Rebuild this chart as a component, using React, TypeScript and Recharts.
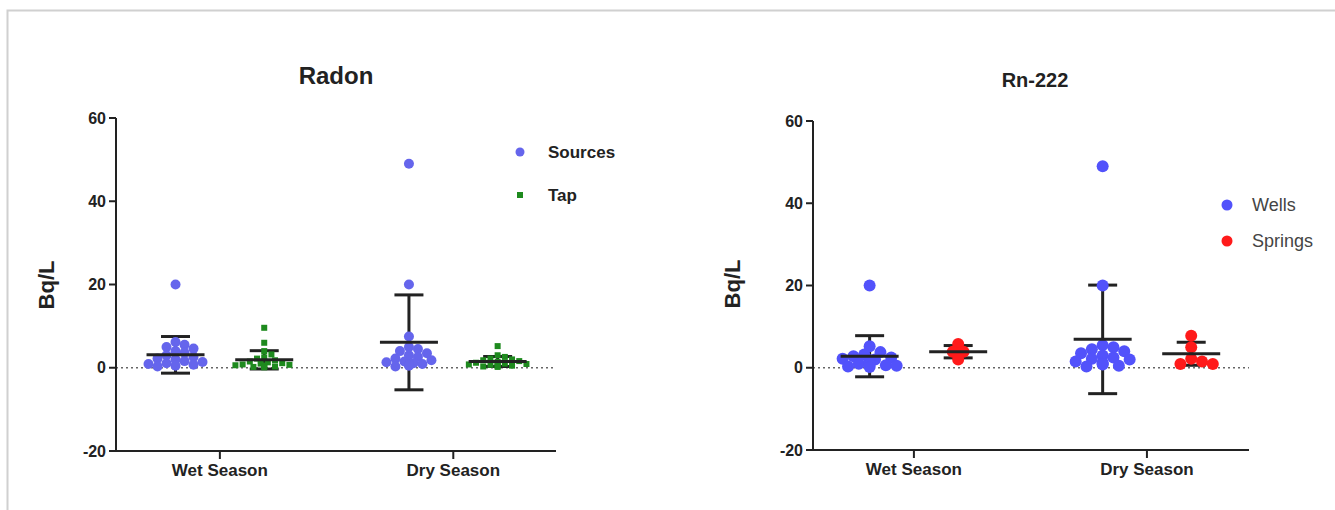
import {
  ScatterChart,
  Scatter,
  XAxis,
  YAxis,
  ErrorBar,
  ReferenceLine,
} from "recharts";

// ---- data ----
const seasons = ["Wet Season", "Dry Season"];
const yTicks = [-20, 0, 20, 40, 60];

// Radon panel
const wetSources = [20, 6.2, 5.5, 5, 4.6, 4, 3.6, 3, 2.6, 2.2, 2, 1.6, 1.4, 1.1, 0.9, 0.7, 0.5, 0.3];
const drySources = [49, 20, 7.5, 5, 4.5, 4, 3.5, 3, 2.6, 2.2, 1.8, 1.5, 1.3, 1.1, 0.9, 0.7, 0.5, 0.3];
const wetTap = [9.6, 6, 4, 3.2, 2.5, 2.2, 1.8, 1.5, 1.3, 1.1, 1, 0.8, 0.7, 0.6, 0.5, 0.4, 0.3, 0.2, 0.1];
const dryTap = [5.2, 3, 2.6, 2.2, 2, 1.8, 1.6, 1.4, 1.2, 1, 0.9, 0.8, 0.7, 0.6, 0.5, 0.4, 0.3, 0.2];
// mean, sd per season
const sourcesMean = [3.1, 6.1];
const sourcesSd = [4.4, 11.4];
const tapMean = [1.9, 1.5];
const tapSd = [2.2, 1.2];

// Rn-222 panel
const wetWells = [20, 5.2, 3.8, 3.2, 2.8, 2.5, 2.2, 2, 1.8, 1.5, 1.2, 1, 0.8, 0.6, 0.5, 0.3, 0.2];
const dryWells = [49, 20, 5.5, 5, 4.5, 4, 3.5, 3, 2.5, 2.2, 2, 1.5, 1.2, 1, 0.8, 0.5, 0.3];
const wetSprings = [5.8, 3.9, 3.9, 2.0];
const drySprings = [7.8, 5.0, 2.2, 1.5, 0.9, 0.9];
const wellsMean = [2.8, 6.9];
const wellsSd = [5.0, 13.2];
const springsMean = [3.9, 3.4];
const springsSd = [1.5, 2.8];

// ---- styling ----
const BLUE_L = "#6565ec";
const GREEN = "#1e8a1e";
const BLUE_R = "#5252fb";
const RED = "#ff1a1a";
const INK = "#222";
const FONT = "'Liberation Sans', Arial, sans-serif";
const GROUP_OFF = 0.19;

// simple beeswarm so overlapping dots spread sideways
const swarm = (vals: number[], center: number, r: number, pxY: number, pxX: number) => {
  const placed: { dx: number; py: number }[] = [];
  return [...vals]
    .sort((a, b) => b - a)
    .map((v) => {
      const py = v * pxY;
      let dx = 0;
      for (let k = 0; k < 30; k++) {
        const cand = k === 0 ? 0 : (k % 2 ? 1 : -1) * Math.ceil(k / 2) * r * 0.9;
        if (Math.abs(cand) > 30) break;
        if (placed.every((p) => Math.hypot(p.dx - cand, p.py - py) >= r * 1.5)) {
          dx = cand;
          break;
        }
      }
      placed.push({ dx, py });
      return { x: center + dx / pxX, y: v };
    });
};

const stats = (means: number[], sds: number[], off: number) =>
  means.map((m, i) => ({ x: i + 1 + off, y: m, sd: sds[i] }));

const dot = (r: number, fill: string) => (p: any) =>
  <circle cx={p.cx} cy={p.cy} r={r} fill={fill} />;
const square = (s: number, fill: string) => (p: any) =>
  <rect x={p.cx - s / 2} y={p.cy - s / 2} width={s} height={s} fill={fill} />;
const meanLine = (p: any) => (
  <line x1={p.cx - 29} x2={p.cx + 29} y1={p.cy} y2={p.cy} stroke={INK} strokeWidth={3} />
);

const tickStyle = { fill: INK, fontSize: 16, fontWeight: 700, fontFamily: FONT };

type Panel = {
  left: number;
  width: number;
  margin: { top: number; right: number; bottom: number; left: number };
  domain: [number, number];
  groups: { pts: { x: number; y: number }[]; shape: any }[];
  st: { x: number; y: number; sd: number }[][];
};

const PanelChart = ({ left, width, margin, domain, groups, st }: Panel) => (
  <div style={{ position: "absolute", left, top: 0 }}>
    <ScatterChart width={width} height={510} margin={margin}>
      <XAxis
        type="number"
        dataKey="x"
        domain={domain}
        allowDataOverflow
        ticks={[1, 2]}
        tickFormatter={(v: number) => seasons[v - 1]}
        height={40}
        stroke={INK}
        strokeWidth={2}
        tickSize={8}
        tickMargin={5}
        tick={{ ...tickStyle, fontSize: 17 }}
      />
      <YAxis
        type="number"
        dataKey="y"
        domain={[-20, 60]}
        ticks={yTicks}
        width={50}
        stroke={INK}
        strokeWidth={2}
        tickSize={7}
        tickMargin={3}
        tick={tickStyle}
      />
      <ReferenceLine y={0} stroke="#666" strokeWidth={1.6} strokeDasharray="2 3" />
      {groups.map((g, i) => (
        <Scatter key={i} data={g.pts} shape={g.shape} isAnimationActive={false} />
      ))}
      {st.map((s, i) => (
        <Scatter key={"s" + i} data={s} shape={meanLine} isAnimationActive={false}>
          <ErrorBar dataKey="sd" direction="y" width={14.5} stroke={INK} strokeWidth={3} />
        </Scatter>
      ))}
    </ScatterChart>
  </div>
);

export default function App() {
  const pxL = 333 / 80;
  const pxR = 329 / 80;
  const uL = 440 / 1.885;
  const uR = 436 / 1.871;

  const leftGroups = [
    { pts: [...swarm(wetSources, 1 - GROUP_OFF, 5, pxL, uL), ...swarm(drySources, 2 - GROUP_OFF, 5, pxL, uL)], shape: dot(5, BLUE_L) },
    { pts: [...swarm(wetTap, 1 + GROUP_OFF, 4, pxL, uL), ...swarm(dryTap, 2 + GROUP_OFF, 4, pxL, uL)], shape: square(6, GREEN) },
  ];
  const rightGroups = [
    { pts: [...swarm(wetWells, 1 - GROUP_OFF, 6, pxR, uR), ...swarm(dryWells, 2 - GROUP_OFF, 6, pxR, uR)], shape: dot(6, BLUE_R) },
    { pts: [...swarm(wetSprings, 1 + GROUP_OFF, 6, pxR, uR), ...swarm(drySprings, 2 + GROUP_OFF, 6, pxR, uR)], shape: dot(6, RED) },
  ];

  return (
    <div style={{ position: "fixed", left: 0, top: 0, width: 1335, height: 510, background: "#fff", overflow: "hidden" }}>
      <PanelChart
        left={0}
        width={640}
        margin={{ top: 118, right: 84, bottom: 19, left: 66 }}
        domain={[0.555, 2.44]}
        groups={leftGroups}
        st={[stats(sourcesMean, sourcesSd, -GROUP_OFF), stats(tapMean, tapSd, GROUP_OFF)]}
      />
      <PanelChart
        left={670}
        width={665}
        margin={{ top: 121, right: 86, bottom: 20, left: 93 }}
        domain={[0.567, 2.438]}
        groups={rightGroups}
        st={[stats(wellsMean, wellsSd, -GROUP_OFF), stats(springsMean, springsSd, GROUP_OFF)]}
      />
      <svg width={1335} height={510} style={{ position: "absolute", left: 0, top: 0, pointerEvents: "none" }} fontFamily={FONT}>
        <rect x={7.5} y={10.5} width={1400} height={600} fill="none" stroke="#d0d0d0" strokeWidth={2} />
        <text x={336} y={84} textAnchor="middle" fontSize={24} fontWeight={700} fill={INK}>Radon</text>
        <text x={1035} y={87} textAnchor="middle" fontSize={20} fontWeight={700} fill={INK}>Rn-222</text>
        <text transform="translate(54,285) rotate(-90)" textAnchor="middle" fontSize={22} fontWeight={700} fill={INK}>Bq/L</text>
        <text transform="translate(740,284) rotate(-90)" textAnchor="middle" fontSize={22} fontWeight={700} fill={INK}>Bq/L</text>
        <circle cx={520} cy={152} r={4.5} fill={BLUE_L} />
        <text x={548} y={158} fontSize={17} fontWeight={700} fill={INK}>Sources</text>
        <rect x={517} y={192} width={6} height={6} fill={GREEN} />
        <text x={548} y={201} fontSize={17} fontWeight={700} fill={INK}>Tap</text>
        <circle cx={1227} cy={205} r={5.5} fill={BLUE_R} />
        <text x={1252} y={211} fontSize={18} fill="#444">Wells</text>
        <circle cx={1227} cy={241} r={5.5} fill={RED} />
        <text x={1252} y={247} fontSize={18} fill="#444">Springs</text>
      </svg>
    </div>
  );
}
